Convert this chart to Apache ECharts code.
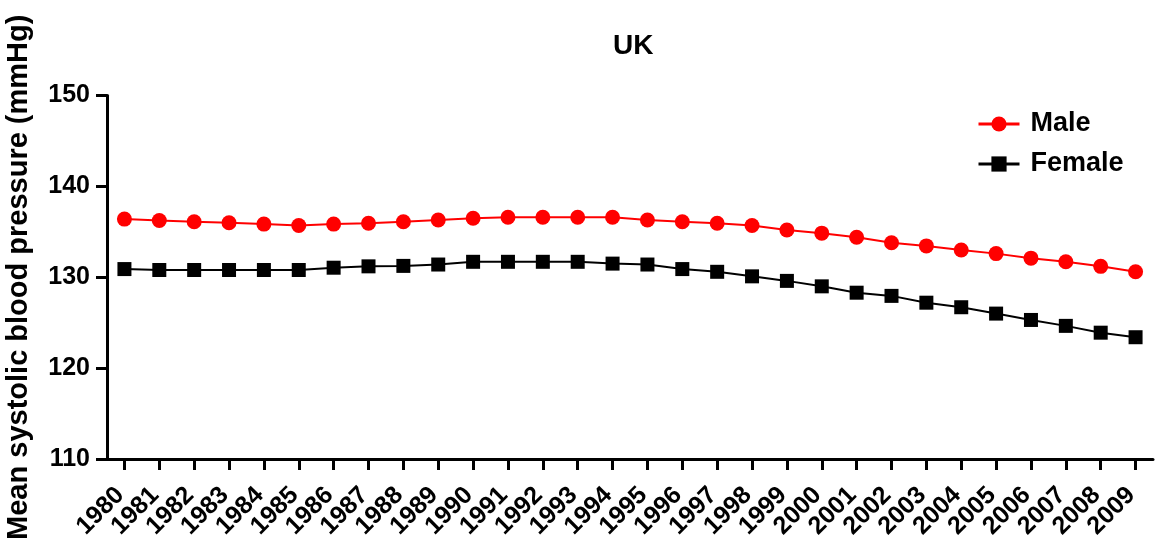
<!DOCTYPE html>
<html>
<head>
<meta charset="utf-8">
<script src="https://cdn.jsdelivr.net/npm/echarts@6/dist/echarts.min.js"></script>
<style>html,body{margin:0;padding:0;background:#fff;}#chart{width:1156px;height:548px;}</style>
</head>
<body>
<div id="chart"></div>
<script>
const years = ['1980','1981','1982','1983','1984','1985','1986','1987','1988','1989','1990','1991','1992','1993','1994','1995','1996','1997','1998','1999','2000','2001','2002','2003','2004','2005','2006','2007','2008','2009'];
const male = [136.4,136.25,136.1,136.0,135.85,135.7,135.85,135.95,136.1,136.3,136.5,136.6,136.6,136.6,136.6,136.3,136.1,135.95,135.7,135.2,134.85,134.4,133.8,133.45,133.0,132.6,132.1,131.7,131.2,130.6];
const female = [130.9,130.8,130.8,130.8,130.8,130.8,131.05,131.2,131.25,131.4,131.7,131.7,131.7,131.7,131.5,131.4,130.9,130.6,130.1,129.6,129.0,128.3,127.95,127.2,126.7,126.0,125.3,124.65,123.9,123.4];
const yTicks = {min:110, max:150, interval:10};

const FONT = 'Liberation Sans, Arial, sans-serif';
const chart = echarts.init(document.getElementById('chart'));
chart.setOption({
  animation: false,
  backgroundColor: '#fff',
  title: {
    text: 'UK', left: 608, top: 27,
    textStyle: {fontFamily: FONT, fontWeight: 'bold', fontSize: 28, color: '#000'}
  },
  legend: {
    orient: 'vertical', left: 972, top: 105,
    itemWidth: 41, itemHeight: 19, itemGap: 12,
    lineStyle: {width: 3},
    textStyle: {fontFamily: FONT, fontWeight: 'bold', fontSize: 27, lineHeight: 28, color: '#000', padding: [0,0,0,6]},
    data: ['Male','Female']
  },
  grid: {left: 107, right: 3, top: 95.5, bottom: 89, containLabel: false, outerBoundsMode: 'none'},
  xAxis: {
    type: 'category', data: years, boundaryGap: true,
    axisLine: {show: true, lineStyle: {color: '#000', width: 3}},
    axisTick: {show: true, alignWithLabel: true, interval: 0, length: 11, lineStyle: {color: '#000', width: 3, opacity: 1}},
    axisLabel: {rotate: 45, interval: 0, margin: 28, padding: [0,6,0,0], fontFamily: FONT, fontWeight: 'bold', fontSize: 25, color: '#000'},
    splitLine: {show: false}
  },
  yAxis: {
    type: 'value', min: yTicks.min, max: yTicks.max, interval: yTicks.interval,
    name: 'Mean systolic blood pressure (mmHg)', nameLocation: 'middle', nameRotate: 90, nameGap: 74,
    nameTextStyle: {fontFamily: FONT, fontWeight: 'bold', fontSize: 29, color: '#000'},
    axisLine: {show: true, lineStyle: {color: '#000', width: 3}},
    axisTick: {show: true, inside: false, length: 11, lineStyle: {color: '#000', width: 3, opacity: 1}},
    axisLabel: {margin: 17, fontFamily: FONT, fontWeight: 'bold', fontSize: 25, color: '#000'},
    splitLine: {show: false}
  },
  series: [
    {name: 'Male', type: 'line', data: male, symbol: 'circle', symbolSize: 15,
     itemStyle: {color: '#ff0000'}, lineStyle: {color: '#ff0000', width: 2}},
    {name: 'Female', type: 'line', data: female, symbol: 'rect', symbolSize: 14,
     itemStyle: {color: '#000'}, lineStyle: {color: '#000', width: 2}}
  ]
});
</script>
</body>
</html>
